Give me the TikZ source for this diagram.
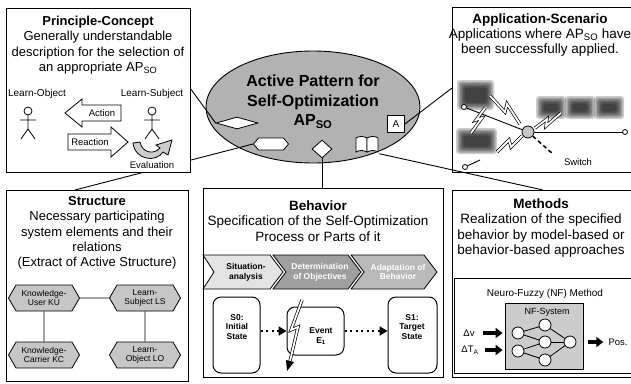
\documentclass[tikz,border=0pt]{standalone}
\usepackage{fontspec}
\setmainfont{Liberation Sans}
\usetikzlibrary{shapes.geometric,shapes.symbols,arrows.meta,calc}

\pgfdeclarelayer{paper}
\pgfdeclarelayer{back}
\pgfsetlayers{paper,back,main}

\tikzset{
  panel/.style={draw, line width=0.9pt, fill=white, inner sep=0pt, outer sep=0pt, anchor=north west},
  body/.style={font=\fontsize{13.5}{15.4}\selectfont, align=center, inner sep=0pt},
  bodys/.style={font=\fontsize{13}{15.4}\selectfont, align=center, inner sep=0pt},
  lbl/.style={font=\fontsize{10}{11}\selectfont, inner sep=0pt},
  small/.style={font=\fontsize{9.5}{11}\selectfont, inner sep=0pt},
  tiny/.style={font=\bfseries\fontsize{8.5}{9.6}\selectfont, align=center, inner sep=0pt},
  conn/.style={line width=0.9pt},
  icon/.style={draw, fill=white, line width=0.8pt, inner sep=0pt},
  hexa/.style={signal, signal to=west and east, signal pointer angle=120, draw, line width=0.8pt,
    fill=gray!45, minimum width=71pt, minimum height=26pt, inner sep=0pt,
    font=\fontsize{8.5}{9.6}\selectfont, align=center},
  rbox/.style={draw, line width=1pt, rounded corners=8pt, fill=white, inner sep=0pt},
  dotarr/.style={line width=2pt, dash pattern=on 2pt off 3.5pt, -{Triangle[length=8pt,width=9pt]}},
  fatarr/.style={line width=3.5pt, -{Triangle[length=7pt,width=10pt]}},
  neuron/.style={circle, draw, fill=white, line width=0.8pt, minimum size=12pt, inner sep=0pt},
  bolt/.style={double=white, double distance=1.8pt, line width=0.7pt, line join=miter},
  chev/.style={draw, line width=0.8pt},
  stick/.pic={\draw[line width=0.8pt] (0,0) circle[radius=4pt] (0,4) -- (0,18) (-8,9) -- (8,9)
     (-7,28) -- (0,18) -- (7,28);}
}
\newcommand{\smudge}[4]{%
  \foreach \d in {0,1.5,3,4.5,6,7.5}
    \fill[black, opacity=0.2, rounded corners=3pt] (#1+\d,#2+\d) rectangle (#3-\d,#4-\d);}

\begin{document}
\begin{tikzpicture}[x=1pt,y=-1pt]
\begin{pgfonlayer}{paper}
  \fill[white] (0,0) rectangle (631,383);
\end{pgfonlayer}
\useasboundingbox (0,0) rectangle (631,383);

% ---------- the five panels ----------
\node[panel, minimum width=184pt, minimum height=164pt] (pc) at (6,8) {};
\node[panel, minimum width=188pt, minimum height=165pt] (as) at (452,7) {};
\node[panel, minimum width=182pt, minimum height=191pt] (st) at (6,190) {};
\node[panel, minimum width=240pt, minimum height=189pt] (bh) at (203,188) {};
\node[panel, minimum width=188pt, minimum height=187pt] (me) at (452,190) {};

% ---------- central pattern with its aspect icons ----------
\begin{pgfonlayer}{back}
  \node[ellipse, draw, line width=0.9pt, fill=black!30, minimum width=214pt, minimum height=112pt, inner sep=0pt] (aps) at (313,107) {};
  \node[font=\bfseries\fontsize{16}{19.5}\selectfont, align=center, inner sep=0pt] (apt) at (313,102)
    {Active Pattern for\\Self-Optimization\\AP\textsubscript{SO}};
  \node[icon, diamond, minimum width=42pt, minimum height=12pt] (dflat) at (237,123) {};
  \node[icon, signal, signal to=west and east, signal pointer angle=100, minimum width=35pt, minimum height=12pt] (hexi) at (271,144) {};
  \node[icon, diamond, minimum width=20pt, minimum height=18pt] (dsq) at (322,149) {};
  \node[inner sep=0pt, minimum width=24pt, minimum height=17pt] (book) at (367,145) {};
  \node[icon, minimum size=17pt, font=\fontsize{10}{10}\selectfont] (abox) at (396,124) {A};
  \draw[icon] (367,152) -- (367,138) .. controls (363,136) and (359,136) .. (356,138) -- (356,152)
     .. controls (359,150) and (363,150) .. (367,152) -- cycle;
  \draw[icon] (367,152) -- (367,138) .. controls (371,136) and (375,136) .. (378,138) -- (378,152)
     .. controls (375,150) and (371,150) .. (367,152) -- cycle;
  % links from the icons to their panels
  \draw[conn] (dflat.west) -- ([yshift=-80pt]pc.north east);
  \draw[conn] (hexi.west) -- ([xshift=69pt]st.north west);
  \draw[conn] (dsq.south) -- (dsq.south |- bh.north);
  \draw[conn] (abox.east) -- ([yshift=-81pt]as.north west);
\end{pgfonlayer}
\draw[conn] (book.south east) -- ([xshift=91pt]me.north west);

% ---------- Principle-Concept ----------
\node[bodys] (pct) at (98,45) {\textbf{Principle-Concept}\\Generally understandable\\description for the selection of\\an appropriate AP\textsubscript{SO}};
\node[lbl] (lob) at (37,94) {Learn-Object};
\node[lbl] (lsu) at (152,94) {Learn-Subject};
\pic at (28,111) {stick};
\pic at (152,111) {stick};
\draw[icon] (65,113) -- (82,99) -- (82,105) -- (121,105) -- (121,121) -- (82,121) -- (82,127) -- cycle;
\node[small] (act) at (102,113) {Action};
\draw[icon] (68,134) -- (111,134) -- (111,127) -- (128,142) -- (111,157) -- (111,150) -- (68,150) -- cycle;
\node[small] (rea) at (90,142) {Reaction};
\draw[line width=0.8pt, fill=gray!40] (133,143) .. controls (135,160) and (156,163) .. (163,152) -- (168,155)
   -- (172,140) -- (156,145) -- (160,148) .. controls (154,155) and (142,153) .. (140,142) -- cycle;
\node[small] (evl) at (152,165) {Evaluation};

% ---------- Application-Scenario ----------
\node[body] (ast) at (540,35) {\textbf{Application-Scenario}\\Applications where AP\textsubscript{SO} have\\been successfully applied.};
\smudge{457}{80}{494}{110}
\smudge{456}{128}{497}{154}
\smudge{536}{96}{566}{119}
\smudge{565}{96}{595}{119}
\smudge{594}{96}{624}{119}
\node[circle, draw, fill=gray!45, line width=0.8pt, minimum size=12pt, inner sep=0pt] (sw) at (528,132) {};
\node[icon, circle, minimum size=5pt] (e1) at (464,107) {};
\node[icon, circle, minimum size=5pt] (e2) at (625,132) {};
\node[icon, circle, minimum size=5pt] (e3) at (465,167) {};
\draw[conn] (e1) -- (sw);
\draw[conn] (sw) -- (e2);
\draw[conn] (e3) -- ++(15,-7);
\draw[line width=1.5pt, dash pattern=on 4pt off 3pt] (sw) -- ++(25,22);
\node[small] (swl) at (578,162) {Switch};
\draw[bolt] (490,96) -- (505,112) -- (507,104) -- (520,124);
\draw[bolt] (485,108) -- (476,120) -- (482,118) -- (471,133);
\draw[bolt] (497,152) -- (509,140) -- (511,147) -- (522,136);
\draw[bolt] (535,128) -- (547,119) -- (546,126) -- (561,113);

% ---------- Structure ----------
\node[bodys] (stt) at (97,233) {\textbf{Structure}\\Necessary participating\\system elements and their\\relations\\(Extract of Active Structure)};
\node[hexa] (ku) at (44,298) {Knowledge-\\User KU};
\node[hexa] (ls) at (145,298) {Learn-\\Subject LS};
\node[hexa] (kc) at (44,355) {Knowledge-\\Carrier KC};
\node[hexa] (lo) at (145,355) {Learn-\\Object LO};
\draw[conn] (ku) -- (ls);
\draw[conn] (ku) -- (kc);
\draw[conn] (ls) -- (lo);

% ---------- Behavior ----------
\node[body] (bht) at (318,221) {\textbf{Behavior}\\Specification of the Self-Optimization\\Process or Parts of it};
\draw[chev, fill=gray!22] (203,255) -- (270,255) -- (283,272) -- (270,289) -- (203,289) -- (214,272) -- cycle;
\draw[chev, fill=gray!75] (273,255) -- (348,255) -- (361,272) -- (348,289) -- (273,289) -- (286,272) -- cycle;
\draw[chev, fill=gray!55] (351,255) -- (424,255) -- (437,272) -- (424,289) -- (351,289) -- (364,272) -- cycle;
\node[tiny] (cs1) at (246,272) {Situation-\\analysis};
\node[tiny, text=white] (cs2) at (320,272) {Determination\\of Objectives};
\node[tiny, text=white] (cs3) at (398,272) {Adaptation of\\Behavior};
\node[rbox, minimum width=47pt, minimum height=76pt] (s0) at (236.5,335) {};
\node[rbox, minimum width=57pt, minimum height=48pt] (ev) at (315.5,331) {};
\node[rbox, minimum width=49pt, minimum height=76pt] (s1) at (412.5,335) {};
\node[tiny] (s0t) at (237,327) {S0:\\Initial\\State};
\node[tiny] (evt) at (321,336) {Event\\E\textsubscript{1}};
\node[tiny] (s1t) at (412,327) {S1:\\Target\\State};
\draw[dotarr] (s0.east |- ev) -- (ev);
\draw[dotarr] (ev) -- (s1.west |- ev);
\draw[bolt] (302,300) -- (291,330) -- (298,327) -- (290,361);
\fill (286,360) -- (294,362) -- (287,371) -- cycle;

% ---------- Methods ----------
\node[body] (met) at (541,228) {\textbf{Methods}\\Realization of the specified\\behavior by model-based or\\behavior-based approaches};
\node[panel, minimum width=186pt, minimum height=95pt] (nfm) at (454,278) {};
\node[lbl] (nft) at (545,294) {Neuro-Fuzzy (NF) Method};
\node[draw, fill=gray!40, line width=0.8pt, minimum width=78pt, minimum height=66pt, inner sep=0pt] (nfs) at (544,336) {};
\node[font=\fontsize{9}{10}\selectfont, inner sep=0pt] (nfl) at (547,312) {NF-System};
\node[neuron] (n1) at (518,333) {};
\node[neuron] (n2) at (518,351) {};
\node[neuron] (n3) at (545,325) {};
\node[neuron] (n4) at (545,342) {};
\node[neuron] (n5) at (545,360) {};
\node[neuron] (n6) at (570,342) {};
\foreach \a/\b in {n1/n3,n1/n4,n2/n4,n2/n5,n3/n6,n4/n6,n5/n6} \draw[line width=0.8pt] (\a) -- (\b);
\node[small] (dv) at (469,333) {Δv};
\node[small] (dt) at (470,350) {ΔT\textsubscript{A}};
\node[small] (pos) at (618,342) {Pos.};
\draw[fatarr] ($(dv.east)+(8,0)$) -- ($(nfs.west |- dv)+(-2,0)$);
\draw[fatarr] ($(dt.east)+(6,0)$) -- ($(nfs.west |- dt)+(-2,0)$);
\draw[fatarr] ($(nfs.east |- n6)+(5,0)$) -- ($(pos.west)+(-5,0)$);
\end{tikzpicture}
\end{document}
